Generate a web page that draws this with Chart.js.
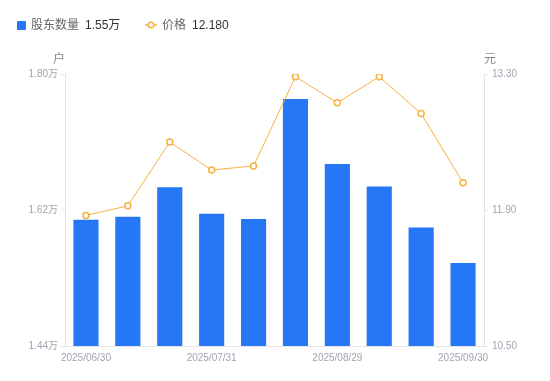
<!DOCTYPE html>
<html>
<head>
<meta charset="utf-8">
<script src="https://cdn.jsdelivr.net/npm/chart.js@4"></script>
<style>
  body { margin: 0; background: #fff; }
  #wrap { position: relative; width: 550px; height: 381px; font-family: 'Liberation Sans', 'Noto Sans CJK SC', sans-serif; }
  #legend { position: absolute; left: 17px; top: 17px; font-size: 12px; line-height: 16px; white-space: nowrap; }
  #legend .item { position: absolute; top: 0; }
  #legend .name { color: #666; }
  #legend .val { color: #333; margin-left: 6px; }
  .sq { display: inline-block; width: 9px; height: 9px; background: #2677f5; border-radius: 1px; vertical-align: -1px; margin-right: 5px; }
</style>
</head>
<body>
<div id="wrap">
  <canvas id="chart" width="550" height="381"></canvas>
  <div id="legend">
    <span class="item" style="left:0"><span class="sq"></span><span class="name">股东数量</span><span class="val">1.55万</span></span>
    <span class="item" style="left:128px"><canvas id="lineIcon" width="12" height="10" style="vertical-align:-1px;margin-right:5px"></canvas><span class="name">价格</span><span class="val">12.180</span></span>
  </div>
</div>
<script>
var dates = ['2025/06/30', '2025/07/10', '2025/07/20', '2025/07/31', '2025/08/10', '2025/08/20', '2025/08/29', '2025/09/10', '2025/09/20', '2025/09/30'];
var holders = [1.607, 1.611, 1.650, 1.615, 1.608, 1.767, 1.681, 1.651, 1.597, 1.550]; // 万户
var prices = [11.844, 11.943, 12.600, 12.312, 12.353, 13.272, 13.003, 13.272, 12.893, 12.180];
var shownLabels = [0, 3, 6, 9];
var leftTicks = [1.44, 1.62, 1.80];
var rightTicks = [10.50, 11.90, 13.30];

var blue = '#2677f5';
var orange = '#f7b03e';
var tickColor = '#a3a3b3';
var axisColor = '#e3e3e8';

// legend icon for the line series
var ic = document.getElementById('lineIcon').getContext('2d');
ic.strokeStyle = orange;
ic.lineWidth = 1.5;
ic.beginPath(); ic.moveTo(0, 5); ic.lineTo(12, 5); ic.stroke();
ic.beginPath(); ic.arc(6, 5, 2.8, 0, Math.PI * 2); ic.fillStyle = '#fff'; ic.fill(); ic.stroke();

var unitTitles = {
  id: 'unitTitles',
  afterDraw: function(chart) {
    var ctx = chart.ctx;
    var a = chart.chartArea;
    ctx.save();
    ctx.font = "12px 'Liberation Sans', 'Noto Sans CJK SC', sans-serif";
    ctx.fillStyle = '#888';
    ctx.textAlign = 'center';
    ctx.textBaseline = 'middle';
    ctx.fillText('户', a.left - 6, a.top - 14);
    ctx.fillText('元', a.right + 6, a.top - 14);
    ctx.restore();
  }
};

var ctx = document.getElementById('chart').getContext('2d');
new Chart(ctx, {
  data: {
    labels: dates,
    datasets: [
      {
        type: 'line',
        label: '价格',
        data: prices,
        yAxisID: 'y1',
        borderColor: orange,
        borderWidth: 1,
        backgroundColor: '#fff',
        pointBorderColor: orange,
        pointBackgroundColor: '#fff',
        pointRadius: 3,
        pointBorderWidth: 1.5,
        tension: 0,
        order: 0
      },
      {
        type: 'bar',
        label: '股东数量',
        data: holders,
        yAxisID: 'y',
        backgroundColor: blue,
        borderWidth: 0,
        categoryPercentage: 0.6,
        barPercentage: 1,
        order: 1
      }
    ]
  },
  options: {
    responsive: false,
    animation: false,
    layout: { padding: { top: 74, left: 0, right: 0, bottom: 0 } },
    plugins: {
      legend: { display: false },
      tooltip: { enabled: false }
    },
    scales: {
      x: {
        grid: { display: false, drawTicks: false },
        border: { color: axisColor },
        ticks: {
          autoSkip: false,
          maxRotation: 0,
          color: tickColor,
          padding: 6,
          font: { size: 10, family: "'Liberation Sans', sans-serif" },
          callback: function(v, i) { return shownLabels.indexOf(i) >= 0 ? dates[i] : ''; }
        },
        afterFit: function(s) { s.height = 35; }
      },
      y: {
        position: 'left',
        min: 1.44,
        max: 1.80,
        grid: { display: true, drawOnChartArea: false, tickLength: 4, color: axisColor },
        border: { color: axisColor },
        ticks: {
          color: tickColor,
          padding: 3,
          font: { size: 10, family: "'Liberation Sans', 'Noto Sans CJK SC', sans-serif" },
          callback: function(v) { return v.toFixed(2) + '万'; }
        },
        afterBuildTicks: function(s) { s.ticks = leftTicks.map(function(v) { return { value: v }; }); },
        afterFit: function(s) { s.width = 65; }
      },
      y1: {
        position: 'right',
        min: 10.50,
        max: 13.30,
        grid: { display: true, drawOnChartArea: false, tickLength: 4, color: axisColor },
        border: { color: axisColor },
        ticks: {
          color: tickColor,
          padding: 4,
          font: { size: 10, family: "'Liberation Sans', sans-serif" },
          callback: function(v) { return v.toFixed(2); }
        },
        afterBuildTicks: function(s) { s.ticks = rightTicks.map(function(v) { return { value: v }; }); },
        afterFit: function(s) { s.width = 66; }
      }
    }
  },
  plugins: [unitTitles]
});
</script>
</body>
</html>
